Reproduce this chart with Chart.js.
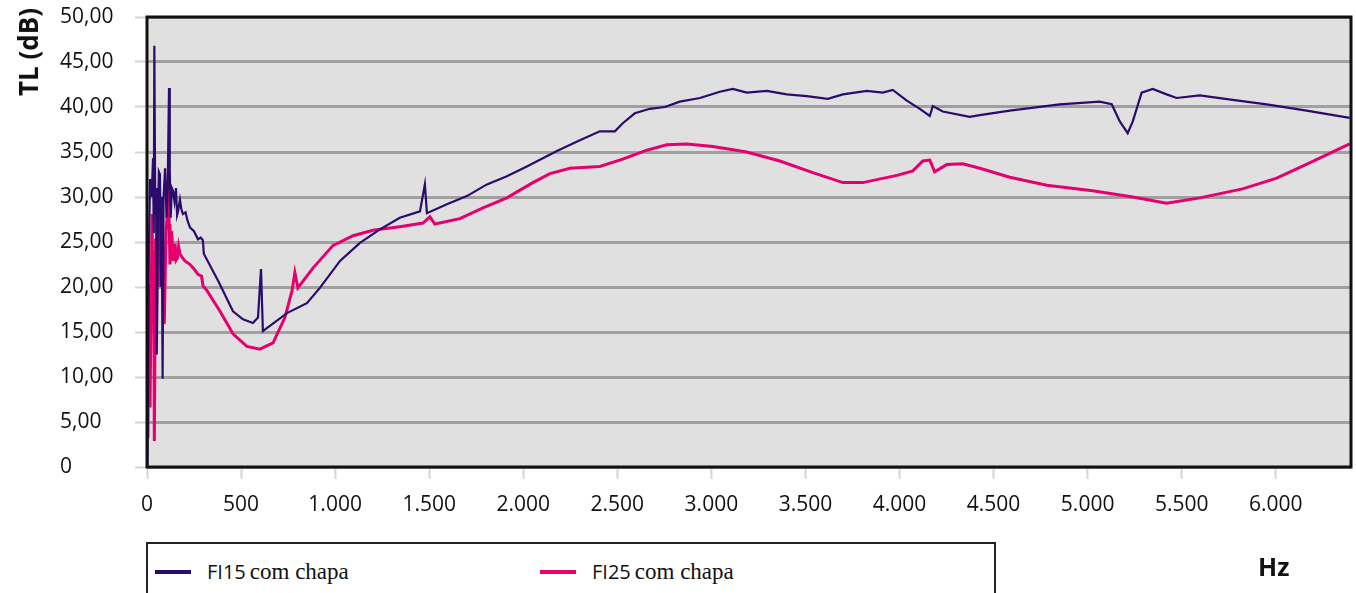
<!DOCTYPE html>
<html>
<head>
<meta charset="utf-8">
<script src="https://cdn.jsdelivr.net/npm/chart.js"></script>
<style>
  body { margin: 0; background: #fff; }
  .wrap { position: relative; width: 1356px; height: 593px; overflow: hidden; }
  #tlChart { position: absolute; left: 0; top: 0; }
  .ytitle {
    position: absolute; left: 28px; top: 52px;
    transform: translate(-50%, -50%) rotate(-90deg);
    font: bold 26px "Open Sans"; color: #111; white-space: nowrap;
  }
  .hz { position: absolute; left: 1258px; top: 549px; font: bold 25px "Open Sans"; color: #111; }
  .legend {
    position: absolute; left: 146px; top: 542px; width: 850px; height: 70px;
    border: 2px solid #222; box-sizing: border-box; background: #fff;
  }
  .item { position: absolute; top: 14px; white-space: nowrap; color: #111; }
  .item .swatch { display: inline-block; width: 36px; height: 4px; vertical-align: middle; margin-right: 16px; position: relative; top: -3px; }
  .item .code { font: 20px "Open Sans"; }
  .item .rest { font: 23px "Liberation Serif"; }
</style>
</head>
<body>
<div class="wrap">
  <canvas id="tlChart" width="1356" height="593"></canvas>
  <div class="ytitle">TL (dB)</div>
  <div class="hz">Hz</div>
  <div class="legend">
    <div class="item" style="left:7px"><span class="swatch" style="background:#2b0b6b"></span><span class="code">FI15</span> <span class="rest">com chapa</span></div>
    <div class="item" style="left:392px"><span class="swatch" style="background:#e5006d"></span><span class="code">FI25</span> <span class="rest">com chapa</span></div>
  </div>
</div>
<script>
// frequency axis ticks (Hz)
const hzTicks = [0, 500, 1000, 1500, 2000, 2500, 3000, 3500, 4000, 4500, 5000, 5500, 6000];

// FI15 com chapa: frequency (Hz) and transmission loss (dB)
const hz15 = [0, 3, 10, 16, 25, 32, 36, 39, 44, 48, 52, 58, 63, 69, 74, 78, 83, 88, 96, 104,
  110, 117, 121, 126, 132, 138, 146, 154, 160, 165, 175, 183, 191, 205, 215, 229, 250, 271, 285, 297,
  302, 380, 457, 510, 563, 590, 606, 616, 744, 850, 919, 1026, 1132, 1238, 1344, 1451, 1477, 1488, 1594, 1700,
  1807, 1913, 2019, 2179, 2301, 2407, 2487, 2529, 2593, 2673, 2753, 2832, 2939, 3045, 3114, 3188, 3295, 3401, 3507, 3619,
  3699, 3826, 3911, 3964, 4039, 4108, 4161, 4177, 4230, 4373, 4427, 4586, 4852, 5064, 5128, 5171, 5213, 5240, 5287, 5346,
  5420, 5473, 5596, 5771, 5952, 6164, 6393];
const tl15 = [0.3, 1, 24, 32, 30, 34.3, 26, 46.8, 28, 31, 12.5, 27, 32.8, 32.5, 20, 30, 9.8, 30, 33.2, 27.7,
  31, 42.1, 33, 27.7, 31, 30.7, 29.5, 31, 28, 28.4, 29.7, 28.6, 28.1, 28.3, 27.4, 26.6, 26.2, 25.3, 25.5, 25.2,
  23.7, 20.6, 17.3, 16.4, 16.0, 16.6, 22.0, 15.1, 17.1, 18.2, 19.9, 22.9, 24.9, 26.4, 27.7, 28.4, 31.4, 28.2, 29.2, 30.1,
  31.4, 32.3, 33.4, 35.1, 36.3, 37.3, 37.3, 38.2, 39.3, 39.8, 40.0, 40.6, 41.0, 41.7, 42.0, 41.6, 41.8, 41.4, 41.2, 40.9,
  41.4, 41.8, 41.6, 41.9, 40.7, 39.8, 39.0, 40.1, 39.5, 38.9, 39.1, 39.6, 40.3, 40.6, 40.3, 38.4, 37.1, 38.4, 41.6, 42.0,
  41.4, 41.0, 41.3, 40.8, 40.3, 39.6, 38.8];

// FI25 com chapa
const hz25 = [0, 5, 11, 16, 22, 27, 32, 36, 39, 46, 50, 55, 60, 64, 73, 77, 81, 86, 92, 101,
  108, 113, 118, 122, 131, 140, 149, 155, 161, 168, 175, 190, 202, 229, 250, 271, 290, 298, 319, 388,
  457, 531, 600, 670, 733, 771, 786, 802, 882, 988, 1095, 1201, 1344, 1467, 1504, 1530, 1663, 1786, 1913, 2051,
  2142, 2248, 2407, 2529, 2657, 2763, 2870, 3008, 3188, 3364, 3539, 3699, 3805, 3986, 4071, 4124, 4161, 4187, 4251, 4336,
  4427, 4586, 4783, 5027, 5240, 5420, 5596, 5824, 6005, 6180, 6393];
const tl25 = [20, 3.2, 20.3, 6.6, 18, 28.1, 16.2, 24, 2.9, 25.4, 14, 24.3, 20, 31, 22.5, 28, 27.7, 20, 15.9, 26.2,
  28, 32.5, 27, 22.5, 26.2, 22.9, 24.8, 23, 23.2, 24.5, 23.7, 23.2, 22.9, 22.5, 22, 21.4, 21.2, 20.1, 19.6, 17.3,
  14.8, 13.4, 13.1, 13.8, 16.6, 19.6, 21.6, 19.9, 22.1, 24.6, 25.7, 26.3, 26.7, 27.1, 27.8, 27.0, 27.6, 28.8, 29.9, 31.6,
  32.6, 33.2, 33.4, 34.2, 35.2, 35.8, 35.9, 35.6, 35.0, 34.0, 32.7, 31.6, 31.6, 32.4, 32.9, 34.0, 34.1, 32.8, 33.6, 33.7,
  33.2, 32.2, 31.3, 30.7, 30.0, 29.3, 29.9, 30.9, 32.1, 33.8, 35.9];

const toPoints = (xs, ys) => xs.map((x, i) => ({ x: x, y: ys[i] }));

function fmtHz(v) {
  if (v < 1000) return String(v);
  return Math.floor(v / 1000) + '.' + String(v % 1000).padStart(3, '0');
}

function fmtDb(v) {
  return v === 0 ? '0' : v.toFixed(2).replace('.', ',');
}

// grey plot background under the grid, black frame over the curves
const plotFrame = {
  id: 'plotFrame',
  beforeDraw(chart) {
    const { ctx, chartArea: a } = chart;
    ctx.save();
    ctx.fillStyle = '#e0e0e0';
    ctx.fillRect(a.left, a.top, a.right - a.left, a.bottom - a.top);
    ctx.restore();
  },
  afterDatasetsDraw(chart) {
    const { ctx, chartArea: a } = chart;
    ctx.save();
    ctx.strokeStyle = '#111';
    ctx.lineWidth = 3;
    ctx.strokeRect(a.left, a.top, a.right - a.left, a.bottom - a.top);
    ctx.restore();
  }
};

const tickFont = { family: 'Open Sans', size: 21 };

new Chart(document.getElementById('tlChart'), {
  type: 'line',
  data: {
    datasets: [
      { label: 'FI15 com chapa', data: toPoints(hz15, tl15), borderColor: '#2b0b6b', borderWidth: 2.2, pointRadius: 0, tension: 0 },
      { label: 'FI25 com chapa', data: toPoints(hz25, tl25), borderColor: '#e5006d', borderWidth: 3, pointRadius: 0, tension: 0 }
    ]
  },
  options: {
    responsive: false,
    animation: false,
    layout: { padding: { left: 60, top: 17, right: 5, bottom: 0 } },
    plugins: { legend: { display: false }, tooltip: { enabled: false } },
    scales: {
      x: {
        type: 'linear', min: 0, max: 6400,
        afterBuildTicks: s => { s.ticks = hzTicks.map(v => ({ value: v })); },
        afterFit: s => { s.height = 126; },
        ticks: { autoSkip: false, maxRotation: 0, padding: 13, color: '#111', font: tickFont, callback: v => fmtHz(v) },
        grid: { drawOnChartArea: false, tickLength: 12, tickColor: '#d4d4d4', tickWidth: 2 },
        border: { display: false }
      },
      y: {
        min: 0, max: 50,
        afterFit: s => { s.width = 87; },
        ticks: { stepSize: 5, crossAlign: 'far', color: '#111', font: tickFont, callback: v => fmtDb(v) },
        grid: { color: '#a0a0a0', lineWidth: 3, tickLength: 12, tickColor: '#d4d4d4', tickWidth: 2 },
        border: { display: false }
      }
    }
  },
  plugins: [plotFrame]
});
</script>
</body>
</html>
